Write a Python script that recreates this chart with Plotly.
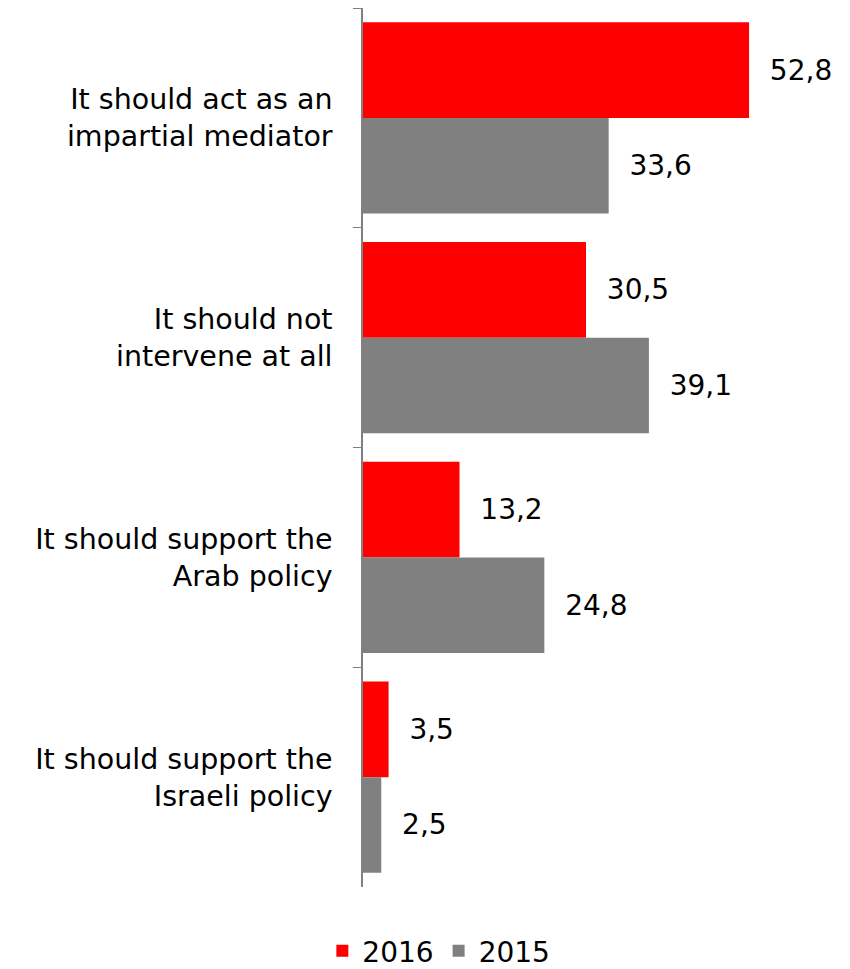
import plotly.graph_objects as go

categories = ["It should act as an<br>impartial mediator",
              "It should not<br>intervene at all",
              "It should support the<br>Arab policy",
              "It should support the<br>Israeli policy"]
values_2016 = [52.8, 30.5, 13.2, 3.5]
values_2015 = [33.6, 39.1, 24.8, 2.5]

FONT = "DejaVu Sans, Verdana, sans-serif"

fig = go.Figure()
fig.add_trace(go.Bar(y=categories, x=values_2016, name="2016", orientation="h",
                     marker=dict(color="#FF0000", line=dict(width=0)),
                     texttemplate="  %{x:.1f}", textposition="outside",
                     textfont=dict(size=28, color="#000000"), cliponaxis=False))
fig.add_trace(go.Bar(y=categories, x=values_2015, name="2015", orientation="h",
                     marker=dict(color="#808080", line=dict(width=0)),
                     texttemplate="  %{x:.1f}", textposition="outside",
                     textfont=dict(size=28, color="#000000"), cliponaxis=False))

fig.update_layout(
    width=842, height=961,
    margin=dict(l=355, r=30, t=0, b=82, autoexpand=False),
    plot_bgcolor="white", paper_bgcolor="white",
    separators=",.",
    barmode="group", bargap=0.13, bargroupgap=0,
    font=dict(family=FONT, size=28, color="#000000"),
    showlegend=True,
    legend=dict(orientation="h", x=0.166, xanchor="center", y=-0.073, yanchor="middle",
                font=dict(size=28), traceorder="normal"),
    xaxis=dict(range=[0, 62.5], showgrid=False, zeroline=False, showticklabels=False,
               showline=False, ticks="", automargin=False),
    yaxis=dict(autorange="reversed", showgrid=False, showline=True, linecolor="#808080",
               linewidth=1.5, ticks="outside", ticklen=8, tickcolor="#808080",
               tickson="boundaries", ticklabelstandoff=23, automargin=False,
               tickfont=dict(size=28.5)),
)
fig.write_html("out.html")
